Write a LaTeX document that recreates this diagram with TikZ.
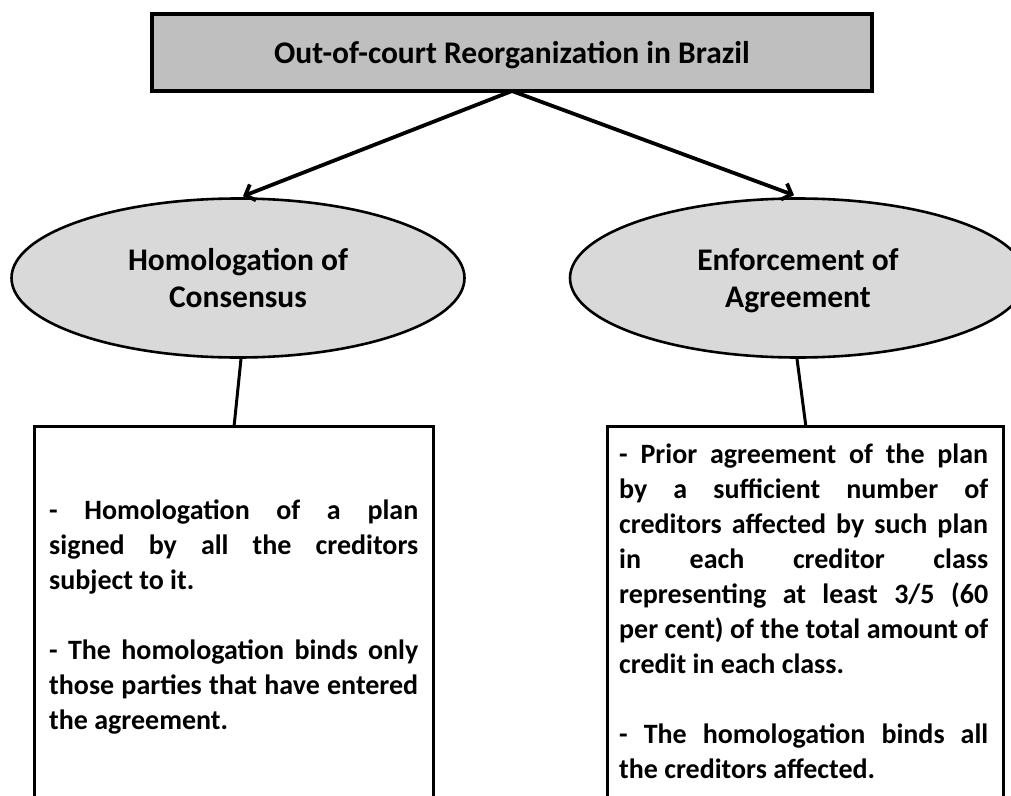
\documentclass[tikz,border=0pt]{standalone}
\usepackage{fontspec}
\setmainfont{Carlito}
\usetikzlibrary{arrows.meta,shapes.geometric}
\definecolor{titlegray}{HTML}{BFBFBF}
\definecolor{ellgray}{HTML}{D9D9D9}
\newcommand{\jline}[1]{\hbox to 369pt{#1}}
\tikzset{
  titlebox/.style={draw, line width=4pt, fill=titlegray, minimum width=720pt,
    minimum height=77pt, inner sep=0pt, text height=21pt, text depth=0pt,
    font=\fontsize{31.5}{37}\selectfont\bfseries},
  ell/.style={ellipse, draw, line width=2.6pt, fill=ellgray, minimum height=159pt,
    inner sep=0pt, align=center, font=\fontsize{31.5}{37}\selectfont\bfseries},
  tbox/.style={draw, line width=3.4pt, minimum height=420pt, inner sep=0pt, anchor=north west},
  arr/.style={line width=3.8pt, -{Straight Barb[length=8pt,width=17pt]}},
  conn/.style={line width=3pt},
  txt/.style={anchor=base west, inner sep=0pt, font=\fontsize{28}{35}\selectfont\bfseries}
}
\begin{document}
\begin{tikzpicture}[x=1pt,y=-1pt]
\useasboundingbox (0,0) rectangle (1011,795);
\clip (0,0) rectangle (1011,795);
\fill[white] (0,0) rectangle (1011,795);

\node[titlebox] (title) at (512,52.5) {Out-of-court Reorganization in Brazil};

\node[ell, minimum width=453pt] (hc) at (238,278) {Homologation of\\\smash{Consensus}};
\node[ell, minimum width=456pt] (ea) at (798,278) {Enforcement of\\\smash{Agreement}};

\draw[arr] ([yshift=2pt]title.south) -- ([xshift=5pt,yshift=1pt]hc.north);
\draw[arr] ([yshift=2pt]title.south) -- ([xshift=-4pt,yshift=2pt]ea.north);

\node[tbox, minimum width=399pt] (lb) at (33,425) {};
\node[tbox, minimum width=396pt] (rb) at (606,425) {};

\draw[conn] ([xshift=3pt]hc.south) -- (lb.north);
\draw[conn] ([xshift=-1pt]ea.south) -- (rb.north);

\node[txt] (l1) at (49,519) {\jline{- Homologation of a plan}};
\node[txt] (l2) at (49,554) {\jline{signed by all the creditors}};
\node[txt] (l3) at (49,589) {subject to it.};
\node[txt] (l4) at (49,659) {\jline{- The homologation binds only}};
\node[txt] (l5) at (49,694) {\jline{those parties that have entered}};
\node[txt] (l6) at (49,729) {the agreement.};

\node[txt] (r1) at (619,463) {\jline{- Prior agreement of the plan}};
\node[txt] (r2) at (619,498) {\jline{by a sufficient number of}};
\node[txt] (r3) at (619,533) {\jline{creditors affected by such plan}};
\node[txt] (r4) at (619,568) {\jline{in each creditor class}};
\node[txt] (r5) at (619,603) {\jline{representing at least 3/5 (60}};
\node[txt] (r6) at (619,638) {\jline{per cent) of the total amount of}};
\node[txt] (r7) at (619,673) {credit in each class.};
\node[txt] (r8) at (619,743) {\jline{- The homologation binds all}};
\node[txt] (r9) at (619,778) {the creditors affected.};
\end{tikzpicture}
\end{document}
